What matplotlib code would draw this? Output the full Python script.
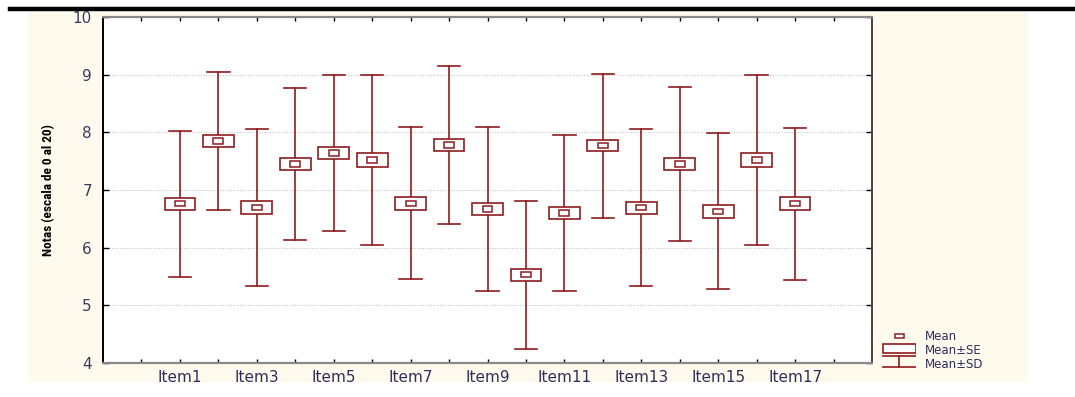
import numpy as np
import matplotlib.pyplot as plt
from matplotlib.patches import Rectangle
from matplotlib import font_manager

items = ["Item%d" % i for i in range(1, 18)]
means = [6.76, 7.85, 6.70, 7.45, 7.64, 7.52, 6.77, 7.78, 6.67, 5.53, 6.60, 7.77, 6.69, 7.45, 6.63, 7.52, 6.76]
sds = [1.27, 1.20, 1.36, 1.32, 1.35, 1.47, 1.32, 1.37, 1.43, 1.28, 1.36, 1.25, 1.36, 1.33, 1.35, 1.47, 1.32]
ses = [0.10, 0.10, 0.11, 0.11, 0.11, 0.12, 0.11, 0.11, 0.11, 0.10, 0.11, 0.10, 0.11, 0.11, 0.11, 0.12, 0.11]

RED = "#8e1b1f"
TXT = "#2e2e5c"

plt.rcParams['font.family'] = ['DejaVu Sans']

# narrow font for the rotated label, if one is around
names = {f.name for f in font_manager.fontManager.ttflist}
narrow = None
for cand in ['Liberation Sans Narrow', 'DejaVu Sans Condensed', 'Roboto Condensed']:
    if cand in names:
        narrow = cand
        break

fig = plt.figure(figsize=(10.75, 3.97), dpi=100)
# cream background panel and black rule on top
bg = Rectangle((28/1075, 1-382/397), 1000/1075, 370/397,
               transform=fig.transFigure, facecolor="#fffaee", edgecolor="none", zorder=-5)
fig.add_artist(bg)
fig.add_artist(plt.Line2D([10/1075, 1.0], [1-9/397, 1-9/397], transform=fig.transFigure,
                          color="black", lw=3.2, zorder=5))

ax = fig.add_axes([103/1075, 1-363/397, 769/1075, 346/397])
ax.set_facecolor("white")

x = np.arange(1, len(items) + 1)
bw, cw = 0.8, 0.58
mw, mh = 0.26, 0.09
for xi, m, sd, se in zip(x, means, sds, ses):
    ax.plot([xi, xi], [m - sd, m + sd], color=RED, lw=1.2, zorder=2)
    ax.plot([xi - cw/2, xi + cw/2], [m + sd, m + sd], color=RED, lw=1.2, zorder=2)
    ax.plot([xi - cw/2, xi + cw/2], [m - sd, m - sd], color=RED, lw=1.2, zorder=2)
    ax.add_patch(Rectangle((xi - bw/2, m - se), bw, 2*se, facecolor="white", edgecolor=RED, lw=1.2, zorder=3))
    ax.add_patch(Rectangle((xi - mw/2, m - mh/2), mw, mh, facecolor="white", edgecolor=RED, lw=1.1, zorder=4))

ax.set_xlim(-1, 19)
ax.set_ylim(4, 10)
ax.set_xticks(np.arange(0, 19))
ax.set_xticklabels(["" if (i < 1 or i % 2 == 0) else items[i-1] for i in range(0, 19)],
                   fontsize=11, color=TXT)
ax.set_yticks(np.arange(4, 11))
ax.set_yticklabels([str(v) for v in range(4, 11)], fontsize=11, color="#3a3a5a")
ax.tick_params(axis='x', direction='in', length=3, top=True, width=1, pad=5)
ax.tick_params(axis='y', direction='in', length=4, right=True, width=1, pad=8)
ax.grid(axis='y', linestyle=(0, (1, 1.5)), color="#c4c4c4", lw=0.8)
ax.set_axisbelow(True)
for s in ['top', 'bottom']:
    ax.spines[s].set_color("#888888")
    ax.spines[s].set_linewidth(1.6)
ax.spines['left'].set_color("black")
ax.spines['left'].set_linewidth(1.4)
ax.spines['right'].set_color("#444444")
ax.spines['right'].set_linewidth(1.4)

if narrow:
    ax.set_ylabel("Notas (escala de 0 al 20)", fontsize=9.5, fontweight='bold',
                  family=[narrow, 'DejaVu Sans'])
else:
    ax.set_ylabel("Notas (escala de 0 al 20)", fontsize=8.5, fontweight='bold',
                  family=['Liberation Sans', 'DejaVu Sans'])
ax.yaxis.set_label_coords(-0.062, 0.5)

# legend panel (pixel-like coordinates, y downwards)
lg = fig.add_axes([882/1075, 1-369/397, 34/1075, 37/397])
lg.set_xlim(0, 34)
lg.set_ylim(369, 332)
lg.axis('off')
lg.add_patch(Rectangle((13, 334), 9, 4, facecolor="white", edgecolor=RED, lw=1.1))
lg.add_patch(Rectangle((0.5, 344), 33, 9, facecolor="white", edgecolor=RED, lw=1.2))
lg.plot([0.5, 33.5], [356, 356], color=RED, lw=1.2)
lg.plot([17, 17], [356, 367], color=RED, lw=1.2)
lg.plot([0.5, 33.5], [367, 367], color=RED, lw=1.2)
for yy, t in zip([336, 350, 364], ["Mean", "Mean\u00b1SE", "Mean\u00b1SD"]):
    lg.text(43, yy, t, fontsize=8.5, color=TXT, va='center', ha='left', clip_on=False)

fig.savefig("out.png", dpi=100)
